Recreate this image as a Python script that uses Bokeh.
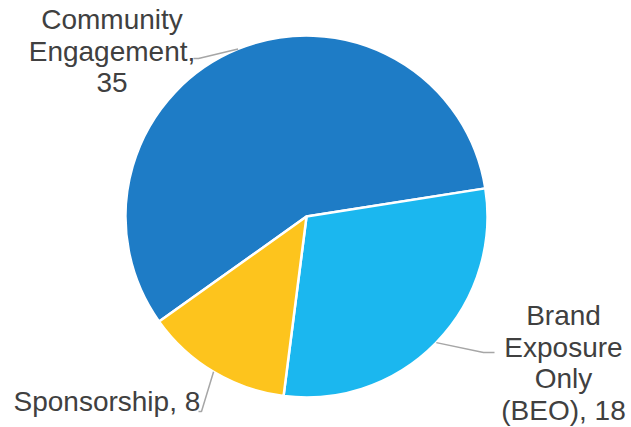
import math
from bokeh.plotting import figure
from bokeh.models import Range1d, ColumnDataSource
from bokeh.core.properties import value
from bokeh.embed import file_html
from bokeh.resources import INLINE

# ---- data ----
categories = ["Community Engagement", "Brand Exposure Only (BEO)", "Sponsorship"]
values = [35, 18, 8]
colors = ["#1E7CC6", "#1BB7EF", "#FDC41D"]
# how each category's data label is wrapped (name lines, then value joined)
wrapped_names = [["Community", "Engagement,"], ["Brand", "Exposure", "Only", "(BEO),"], ["Sponsorship,"]]
value_on_own_line = [True, False, False]

# ---- layout / style ----
W, H = 631, 427
CX, CY, R = 306, 216, 181          # pie centre and radius (pixels, y down)
START_DEG = 215.5                  # first slice starts here, slices go clockwise
FONT = "Liberation Sans"
FS = 28
LINE_H = 31.5
BASE_SHIFT = -9                    # correction for rendered baseline
TXT_COLOR = "#404040"
LEADER_COLOR = "#A6A6A6"
# label anchors (pixel coords): x, first baseline y, align
label_anchor = [(111.5, 28, "center"), (563, 324, "center"), (13, 410, "left")]
leader_elbow = [(198, 58), (483, 352), (201, 411)]
leader_end = [(193, 58), (494, 352), (198, 411)]

def fy(py):
    return H - py

p = figure(width=W, height=H, output_backend="svg", toolbar_location=None,
           x_range=Range1d(0, W), y_range=Range1d(0, H), min_border=0,
           background_fill_color="white", border_fill_color="white")
p.axis.visible = False
p.grid.visible = False
p.outline_line_color = None

total = sum(values)
starts, ends, mids = [], [], []
a = math.radians(START_DEG)
for v in values:
    span = 2 * math.pi * v / total
    starts.append(a - span)
    ends.append(a)
    mids.append(a - span / 2)
    a -= span

src = ColumnDataSource(dict(x=[CX] * len(values), y=[fy(CY)] * len(values),
                            start=starts, end=ends, color=colors))
p.wedge(x="x", y="y", radius=R, start_angle="start", end_angle="end",
        fill_color="color", line_color="white", line_width=2.5, source=src)

# leader lines
for m, (ex, ey), (tx, ty) in zip(mids, leader_elbow, leader_end):
    sx = CX + R * math.cos(m)
    sy = fy(CY) + R * math.sin(m)
    p.line([sx, ex, tx], [sy, fy(ey), fy(ty)], line_color=LEADER_COLOR, line_width=1.5)

# labels
for name_lines, v, own, (lx, ly, align) in zip(wrapped_names, values, value_on_own_line, label_anchor):
    if own:
        lines = list(name_lines) + [str(v)]
    else:
        lines = list(name_lines[:-1]) + [f"{name_lines[-1]} {v}"]
    xs = [lx] * len(lines)
    ys = [fy(ly + BASE_SHIFT + i * LINE_H) for i in range(len(lines))]
    p.text(x=xs, y=ys, text=lines, text_font=value(FONT), text_font_size=f"{FS}px",
           text_color=TXT_COLOR, text_align=align, text_baseline="alphabetic")

open("out.html", "w").write(file_html(p, INLINE))
